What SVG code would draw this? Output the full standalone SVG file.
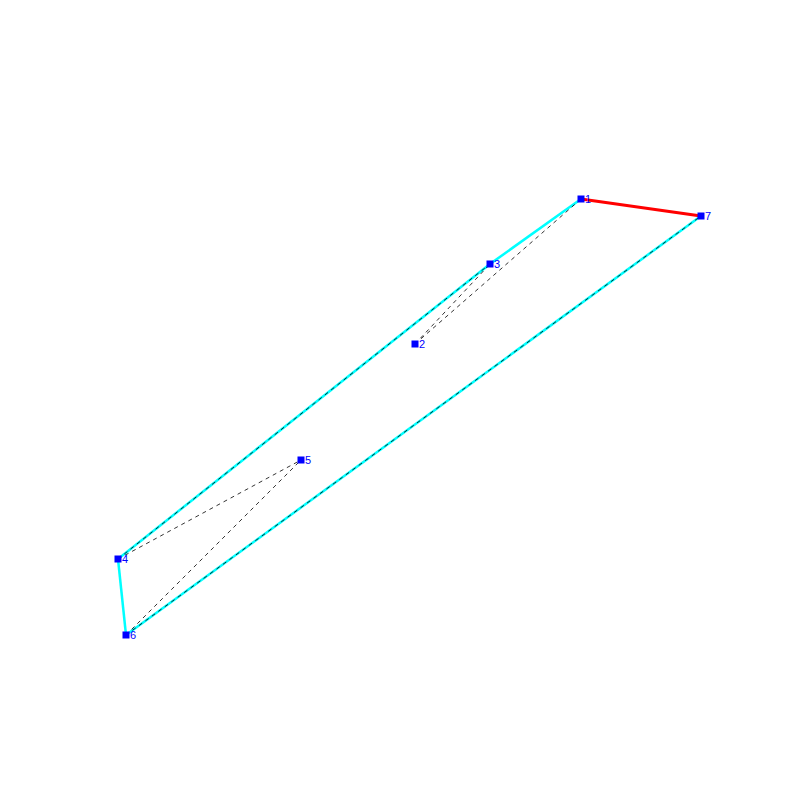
<svg xmlns="http://www.w3.org/2000/svg" width="800" height="800" viewBox="0 0 800 800">
<style>
.c{stroke:#00ffff;stroke-width:2.5;fill:none}
.r{stroke:#ff0000;stroke-width:3;fill:none}
.d{stroke:#000;stroke-width:0.8;stroke-dasharray:4,4;fill:none}
.n rect{fill:#0000ff}
.n text{fill:#0000ff;font-family:"Liberation Sans",Arial,sans-serif;font-size:11px}
</style>
<rect width="800" height="800" fill="#fff"/>
<g id="connectors">
<line class="c" x1="581" y1="199" x2="490" y2="264"/>
<line class="c" x1="490" y1="264" x2="118" y2="559"/>
<line class="c" x1="118" y1="559" x2="126" y2="635"/>
<line class="c" x1="126" y1="635" x2="701" y2="216"/>
<line class="r" x1="581" y1="199" x2="701" y2="216"/>
<line class="d" x1="415" y1="344" x2="490" y2="264"/>
<line class="d" x1="415" y1="344" x2="581" y2="199"/>
<line class="d" x1="118" y1="559" x2="490" y2="264"/>
<line class="d" x1="118" y1="559" x2="301" y2="460"/>
<line class="d" x1="126" y1="635" x2="301" y2="460"/>
<line class="d" x1="126" y1="635" x2="701" y2="216"/>
</g>
<g id="n1" class="n"><rect x="577.5" y="195.5" width="7" height="7"/><text x="585" y="203">1</text></g>
<g id="n2" class="n"><rect x="411.5" y="340.5" width="7" height="7"/><text x="419" y="348">2</text></g>
<g id="n3" class="n"><rect x="486.5" y="260.5" width="7" height="7"/><text x="494" y="268">3</text></g>
<g id="n4" class="n"><rect x="114.5" y="555.5" width="7" height="7"/><text x="122" y="563">4</text></g>
<g id="n5" class="n"><rect x="297.5" y="456.5" width="7" height="7"/><text x="305" y="464">5</text></g>
<g id="n6" class="n"><rect x="122.5" y="631.5" width="7" height="7"/><text x="130" y="639">6</text></g>
<g id="n7" class="n"><rect x="697.5" y="212.5" width="7" height="7"/><text x="705" y="220">7</text></g>
</svg>
